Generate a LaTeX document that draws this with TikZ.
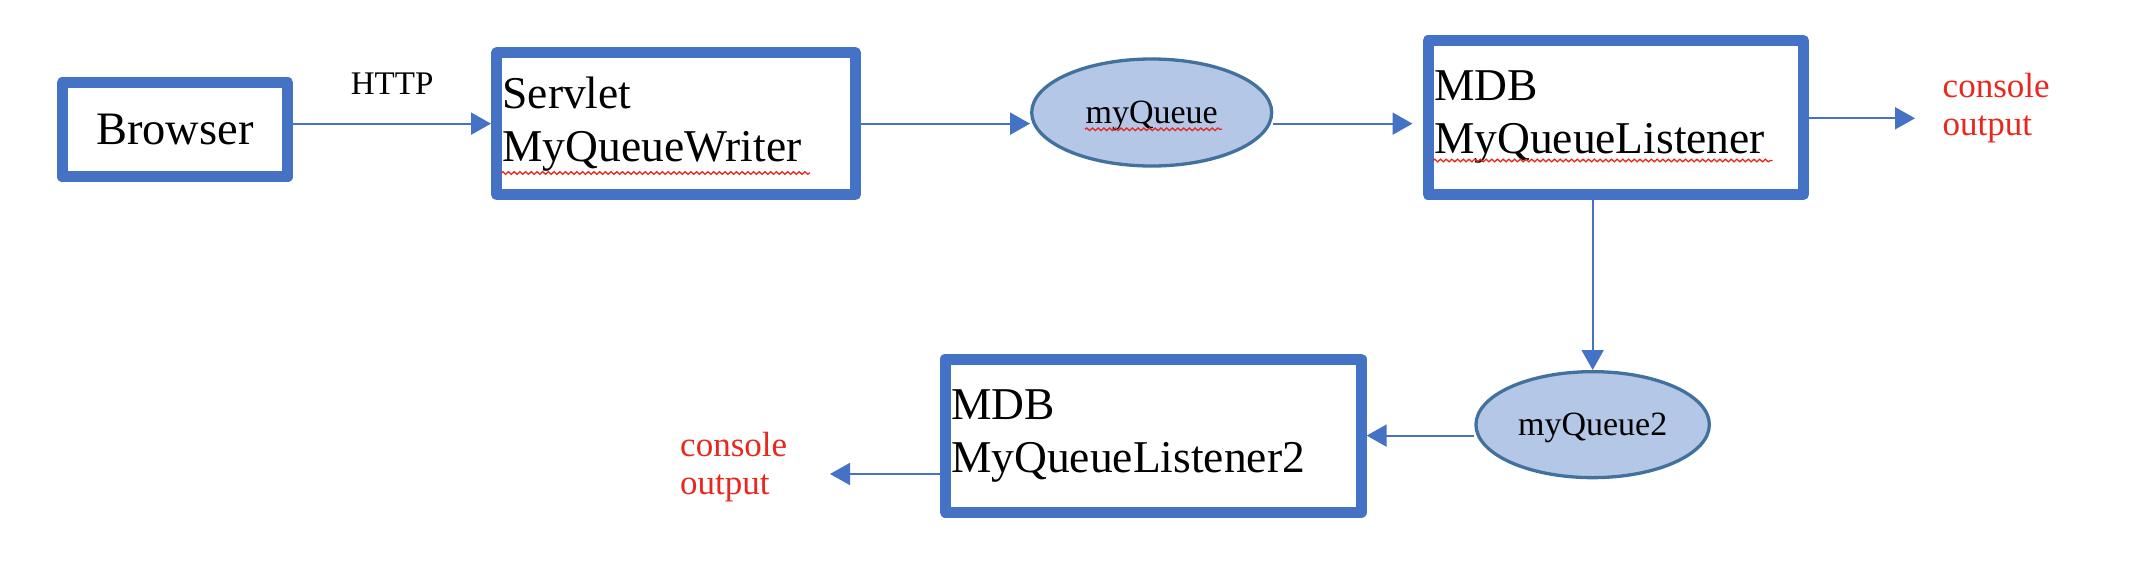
\documentclass[tikz,border=0pt]{standalone}
\usepackage{fontspec}
\setmainfont{Liberation Serif}
\usetikzlibrary{%
  arrows.meta,%
  decorations.pathmorphing,%
  shapes.geometric%
}
\definecolor{boxblue}{HTML}{4472C4}
\definecolor{queuefill}{HTML}{B4C7E7}
\definecolor{queueline}{HTML}{41719C}
\definecolor{outred}{HTML}{E8281E}

\begin{document}
\begin{tikzpicture}[x=1pt, y=-1pt,
  bean/.style={draw=boxblue, line width=11pt, line join=round, fill=white,
    inner sep=0pt, font=\fontsize{45.5}{53}\selectfont},
  beantext/.style={bean, align=left, inner xsep=6pt, text width=#1},
  queue/.style={ellipse, draw=queueline, line width=3.3pt, fill=queuefill,
    inner sep=0pt, text depth=0pt, font=\fontsize{34}{40}\selectfont},
  flow/.style={draw=boxblue, line width=2pt, -{Triangle[length=20pt,width=22pt]}},
  outtext/.style={text=outred, align=left, inner sep=0pt, font=\fontsize{35}{38}\selectfont},
  spell/.style={draw=outred, line width=1.3pt, decorate,
    decoration={snake, segment length=5.7pt, amplitude=1.3pt}}]

  \useasboundingbox (0,0) rectangle (2146,570);

  \node[bean, minimum width=225.6pt, minimum height=94pt,
    font=\fontsize{46.5}{53}\selectfont] (browser) at (175,129.8) {Browser};
  \node[beantext=347pt, minimum height=141.7pt] (servlet) at (676,123.65) {Servlet\\MyQueueWriter};
  \node[queue, minimum width=240pt, minimum height=107pt] (myqueue) at (1151.7,112.5) {myQueue};
  \node[beantext=363.5pt, minimum height=154pt] (mdb) at (1615.75,117.5) {MDB\\MyQueueListener};
  \node[outtext, anchor=west] (console) at (1942.5,108) {console\\output};

  \node[queue, minimum width=233.4pt, minimum height=106pt] (myqueue2) at (1592.65,424.65) {myQueue2};
  \node[beantext=404pt, minimum height=152.8pt] (mdb2) at (1153.15,435.6) {MDB\\MyQueueListener2};
  \node[outtext, anchor=west] (console2) at (680,467.2) {console\\output};

  \coordinate (tip1) at (1915,118.3);
  \coordinate (tip2) at (830,474);

  \draw[flow] (browser.east |- servlet.west) -- node[midway, above=28pt, inner sep=0pt,
    font=\fontsize{33}{40}\selectfont] (http) {HTTP} (servlet.west);
  \draw[flow] (servlet.east) -- (servlet.east -| myqueue.west);
  \draw[flow, shorten >=10pt] (myqueue.east |- servlet.east) -- (mdb.west |- servlet.east);
  \draw[flow] (mdb.east |- tip1) -- (tip1);
  \draw[flow] (myqueue2.north |- mdb.south) -- (myqueue2.north);
  \draw[flow] (myqueue2.west |- mdb2.east) -- (mdb2.east);
  \draw[flow] (mdb2.west |- tip2) -- (tip2);

  \draw[spell] (501,173) -- (810,173);
  \draw[spell] (1433,160.5) -- (1772.5,160.5);
  \draw[spell] (1085,129.3) -- (1222,129.3);

\end{tikzpicture}
\end{document}
